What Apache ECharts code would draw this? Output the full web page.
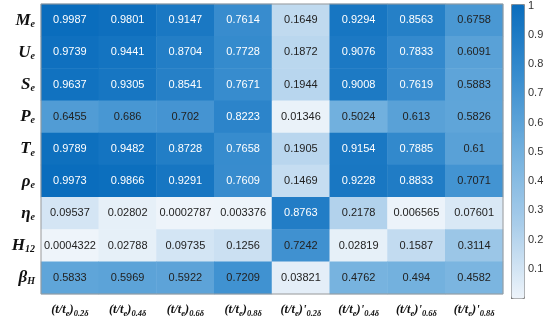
<!DOCTYPE html>
<html>
<head>
<meta charset="utf-8">
<script src="https://cdn.jsdelivr.net/npm/echarts@6/dist/echarts.min.js"></script>
<style>
    html, body { margin: 0; padding: 0; background: #fff; }
    #chart { width: 548px; height: 318px; }
</style>
</head>
<body>
<div id="chart"></div>
<script>
    // column categories (rich text keys: m = main, s = subscript)
    var colLabels = [
        '{m|(t/t}{s|e}{m|)}{s|0.2δ}',
        '{m|(t/t}{s|e}{m|)}{s|0.4δ}',
        '{m|(t/t}{s|e}{m|)}{s|0.6δ}',
        '{m|(t/t}{s|e}{m|)}{s|0.8δ}',
        "{m|(t/t}{s|e}{m|)'}{s|0.2δ}",
        "{m|(t/t}{s|e}{m|)'}{s|0.4δ}",
        "{m|(t/t}{s|e}{m|)'}{s|0.6δ}",
        "{m|(t/t}{s|e}{m|)'}{s|0.8δ}"
    ];
    var rowLabels = [
        '{m|M}{s|e}', '{m|U}{s|e}', '{m|S}{s|e}', '{m|P}{s|e}', '{m|T}{s|e}',
        '{m|ρ}{s|e}', '{m|η}{s|e}', '{m|H}{s|12}', '{m|β}{s|H}'
    ];

    var rowMe  = [0.9987, 0.9801, 0.9147, 0.7614, 0.1649, 0.9294, 0.8563, 0.6758];
    var rowUe  = [0.9739, 0.9441, 0.8704, 0.7728, 0.1872, 0.9076, 0.7833, 0.6091];
    var rowSe  = [0.9637, 0.9305, 0.8541, 0.7671, 0.1944, 0.9008, 0.7619, 0.5883];
    var rowPe  = [0.6455, 0.686, 0.702, 0.8223, 0.01346, 0.5024, 0.613, 0.5826];
    var rowTe  = [0.9789, 0.9482, 0.8728, 0.7658, 0.1905, 0.9154, 0.7885, 0.61];
    var rowRho = [0.9973, 0.9866, 0.9291, 0.7609, 0.1469, 0.9228, 0.8833, 0.7071];
    var rowEta = [0.09537, 0.02802, 0.0002787, 0.003376, 0.8763, 0.2178, 0.006565, 0.07601];
    var rowH12 = [0.0004322, 0.02788, 0.09735, 0.1256, 0.7242, 0.02819, 0.1587, 0.3114];
    var rowBeta = [0.5833, 0.5969, 0.5922, 0.7209, 0.03821, 0.4762, 0.494, 0.4582];

    var rows = [rowMe, rowUe, rowSe, rowPe, rowTe, rowRho, rowEta, rowH12, rowBeta];
    var colorTicks = [0.1, 0.2, 0.3, 0.4, 0.5, 0.6, 0.7, 0.8, 0.9, 1];

    var theMin = 0.0002787, theMax = 0.9987;

    var theData = [];
    rows.forEach(function (r, yi) {
        r.forEach(function (v, xi) {
            theData.push({
                value: [xi, yi, v],
                label: {color: v > 0.74 ? '#ffffff' : '#222222'}
            });
        });
    });

    var serifBold = {fontFamily: 'Liberation Serif', fontWeight: 'bold', fontStyle: 'italic', color: '#111'};

    var chart = echarts.init(document.getElementById('chart'));
    var option = {
        animation: false,
        grid: [
            {left: 41, right: 45, top: 4, bottom: 20, show: true, z: 3,
                borderColor: '#9a9a9a', borderWidth: 1, backgroundColor: 'transparent'},
            {left: 511, width: 13, top: 4, height: 294}
        ],
        xAxis: [
            {
                type: 'category', gridIndex: 0, data: colLabels,
                axisLine: {show: false}, axisTick: {show: false}, splitArea: {show: false},
                axisLabel: {
                    margin: 9, interval: 0,
                    rich: {
                        m: Object.assign({fontSize: 12.5, lineHeight: 14}, serifBold),
                        s: Object.assign({fontSize: 8.5, lineHeight: 14, padding: [7, 0, 0, 0]}, serifBold)
                    }
                }
            },
            {type: 'value', gridIndex: 1, show: false, min: 0, max: 1}
        ],
        yAxis: [
            {
                type: 'category', gridIndex: 0, data: rowLabels, inverse: true,
                axisLine: {show: false}, axisTick: {show: false},
                axisLabel: {
                    margin: 6,
                    rich: {
                        m: Object.assign({fontSize: 17, lineHeight: 18}, serifBold),
                        s: Object.assign({fontSize: 10, lineHeight: 18, padding: [8, 0, 0, 0]}, serifBold)
                    }
                }
            },
            {
                type: 'value', gridIndex: 1, min: 0, max: 1, interval: 0.1, position: 'right',
                splitLine: {show: false}, axisLine: {show: false},
                axisTick: {show: true, length: 3, lineStyle: {color: '#555'}},
                axisLabel: {
                    margin: 4, fontSize: 11, color: '#333', fontFamily: 'Liberation Sans',
                    formatter: function (v) {
                        var hit = colorTicks.some(function (t) { return Math.abs(t - v) < 1e-6; });
                        return hit ? String(+v.toFixed(1)) : '';
                    }
                }
            }
        ],
        visualMap: {
            type: 'continuous', min: theMin, max: theMax, seriesIndex: 0,
            calculable: false, showLabel: false, text: null,
            left: 511, top: 4, itemWidth: 13, itemHeight: 294, padding: 0,
            borderColor: '#8a8a8a', borderWidth: 1,
            inRange: {color: ['#eef4fa', '#a9cdea', '#72b0de', '#3a8ecf', '#0a6dbd']}
        },
        series: [{
            type: 'heatmap', xAxisIndex: 0, yAxisIndex: 0,
            data: theData,
            label: {
                show: true, fontSize: 11, fontFamily: 'Liberation Sans',
                formatter: function (p) { return String(p.value[2]); }
            },
            emphasis: {disabled: true}
        }]
    };
    chart.setOption(option);
</script>
</body>
</html>
